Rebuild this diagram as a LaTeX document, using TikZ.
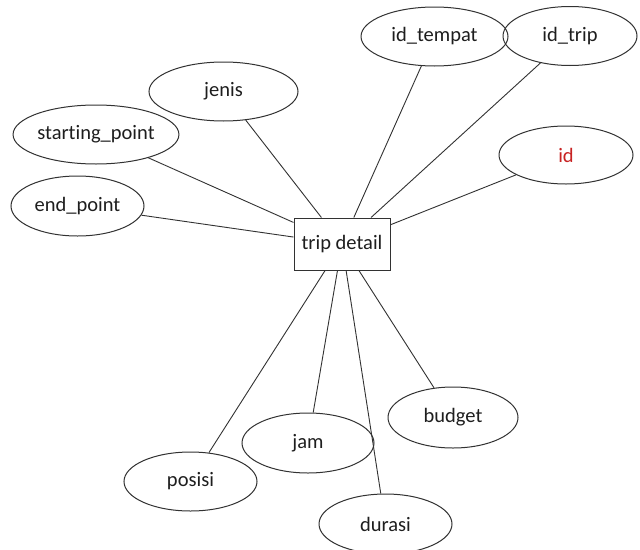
\documentclass[tikz,border=0pt]{standalone}
\usepackage{fontspec}
\setmainfont[Ligatures={NoCommon}]{Carlito}
\usetikzlibrary{shapes.geometric}
\definecolor{idred}{RGB}{200,35,35}
\definecolor{txt}{RGB}{30,30,30}
\definecolor{edge}{RGB}{50,50,50}
\begin{document}
\begin{tikzpicture}[x=1pt,y=-1pt,
  attr/.style={ellipse,draw=edge,line width=1pt,inner sep=0pt,font=\fontsize{20.5}{24}\selectfont,text=txt},
  entity/.style={rectangle,draw=edge,line width=1pt,minimum width=96pt,minimum height=52pt,inner sep=0pt,font=\fontsize{20.5}{24}\selectfont,text=txt},
  link/.style={draw=edge,line width=0.9pt}]
\useasboundingbox[fill=white] (0,0) rectangle (640,549);
\node[entity] (box) at (342,244) {trip detail};
\node[attr,minimum width=147pt,minimum height=59pt] (idtempat) at (434.5,36.5) {id\_tempat};
\node[attr,minimum width=134pt,minimum height=59pt] (idtrip) at (570,36) {id\_trip};
\node[attr,minimum width=149pt,minimum height=59pt] (jenis) at (223.5,91.5) {jenis};
\node[attr,minimum width=148pt,minimum height=59pt] (start) at (96,134.5) {starting\_point};
\node[attr,minimum width=134pt,minimum height=58pt,text=idred] (id) at (566,155) {id};
\node[attr,minimum width=133pt,minimum height=60pt] (endp) at (77.5,206) {end\_point};
\node[attr,minimum width=130pt,minimum height=61pt] (budget) at (453,417.5) {budget};
\node[attr,minimum width=132pt,minimum height=60pt] (jam) at (308,443) {jam};
\node[attr,minimum width=133pt,minimum height=59pt] (posisi) at (190.5,481.5) {posisi};
\node[attr,minimum width=133pt,minimum height=60pt] (durasi) at (385.5,524) {durasi};
\foreach \n in {idtempat,idtrip,jenis,start,id,endp,budget,jam,posisi,durasi}
  \draw[link] (box) -- (\n);
\end{tikzpicture}
\end{document}
